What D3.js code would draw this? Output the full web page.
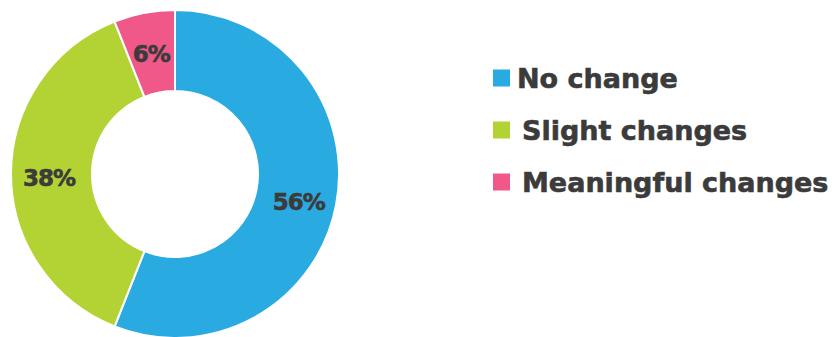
<!DOCTYPE html>
<html>
<head>
<meta charset="utf-8">
<script src="https://cdn.jsdelivr.net/npm/d3@7"></script>
<style>
  body { margin: 0; background: #fff; }
  svg text { font-family: "DejaVu Sans", sans-serif; font-weight: bold; fill: #3b3b3b; stroke: #3b3b3b; stroke-width: 0.6px; }
</style>
</head>
<body>
<div id="chart"></div>
<script>
const categories = ["No change", "Slight changes", "Meaningful changes"];
const values = [56, 38, 6];
const colors = ["#29abe2", "#b3d335", "#f0588a"];

const width = 832, height = 337;
const cx = 175, cy = 174;
const outerR = 164, innerR = 83;

let svg = d3.select("#chart")
  .append("svg")
  .attr("width", width)
  .attr("height", height);

let pie = d3.pie().sort(null).value((d) => d);
let arc = d3.arc().innerRadius(innerR).outerRadius(outerR);
let labelArc = d3.arc().innerRadius(126).outerRadius(126);

let g = svg.append("g").attr("transform", `translate(${cx},${cy})`);

let slices = pie(values);

g.selectAll(".slice")
  .data(slices)
  .enter()
  .append("path")
  .attr("class", "slice")
  .attr("d", arc)
  .attr("fill", (d, i) => colors[i])
  .attr("stroke", "#fff")
  .attr("stroke-width", 2);

g.selectAll(".pct")
  .data(slices)
  .enter()
  .append("text")
  .attr("class", "pct")
  .attr("transform", (d) => `translate(${labelArc.centroid(d)})`)
  .attr("dy", 4)
  .attr("text-anchor", "middle")
  .attr("dominant-baseline", "central")
  .style("font-size", "23px")
  .style("letter-spacing", "-1px")
  .text((d) => d.data + "%");

// legend
let legendY = d3.scaleBand()
  .domain(categories)
  .range([52, 208]);

let legend = svg.append("g").attr("transform", "translate(493,0)");

let items = legend.selectAll(".item")
  .data(categories)
  .enter()
  .append("g")
  .attr("class", "item")
  .attr("transform", (d) => `translate(0,${legendY(d) + legendY.bandwidth() / 2})`);

items.append("rect")
  .attr("x", 0)
  .attr("y", -8.5)
  .attr("width", 17)
  .attr("height", 17)
  .attr("fill", (d, i) => colors[i]);

items.append("text")
  .attr("x", (d, i) => (i === 0 ? 24 : 29))
  .attr("dominant-baseline", "central")
  .style("font-size", "27px")
  .text((d) => d);
</script>
</body>
</html>
